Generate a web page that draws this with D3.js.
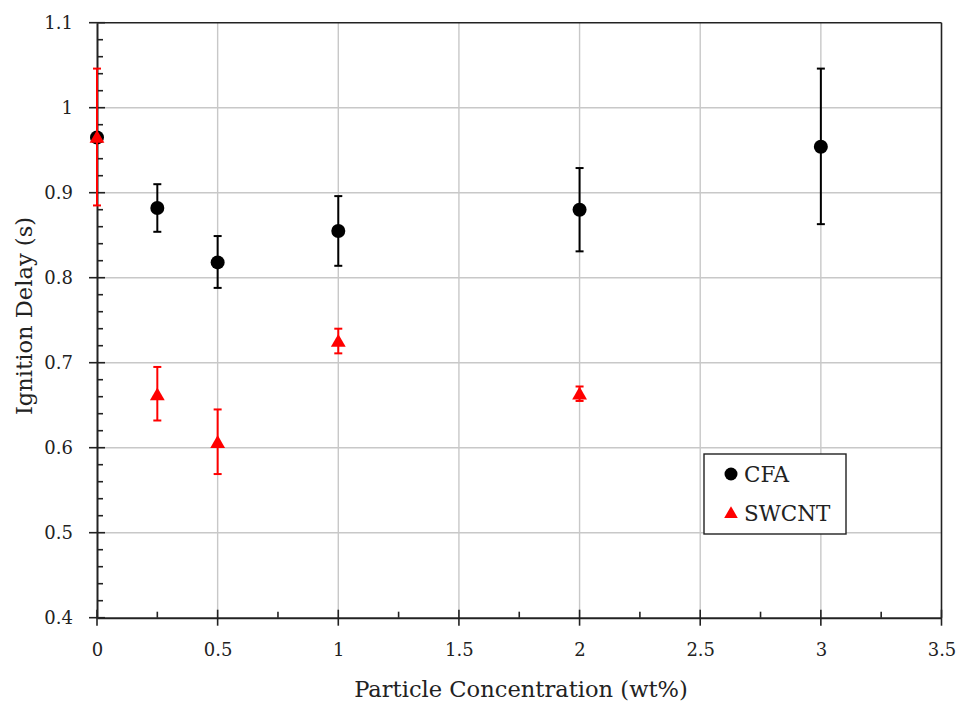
<!DOCTYPE html>
<html><head><meta charset="utf-8">
<script src="https://cdn.jsdelivr.net/npm/d3@7"></script>
<style>body{margin:0;background:#fff}svg{display:block}</style>
</head><body>
<svg id="c" width="959" height="701"></svg>
<script>
const xConc = [0, 0.25, 0.5, 1, 2, 3];
const cfaMean = [0.965, 0.882, 0.818, 0.855, 0.880, 0.954];
const cfaLow  = [0.965, 0.854, 0.788, 0.814, 0.831, 0.863];
const cfaHigh = [0.965, 0.910, 0.849, 0.896, 0.929, 1.046];
const swConc = [0, 0.25, 0.5, 1, 2];
const swMean = [0.965, 0.662, 0.606, 0.725, 0.663];
const swLow  = [0.885, 0.632, 0.569, 0.711, 0.655];
const swHigh = [1.046, 0.695, 0.645, 0.740, 0.672];
const xTicks = [0, 0.5, 1, 1.5, 2, 2.5, 3, 3.5];
const yTicks = [0.4, 0.5, 0.6, 0.7, 0.8, 0.9, 1.0, 1.1];
const seriesNames = ["CFA", "SWCNT"];

const FONT = "DejaVu Serif";
const TXT = "#222";
const svg = d3.select("#c");
const L = 97, R = 941.5, T = 22.7, B = 617.7;
const x = d3.scaleLinear().domain([0, 3.5]).range([L, R]);
const y = d3.scaleLinear().domain([0.4, 1.1]).range([B, T]);

// grid
const g = svg.append("g");
g.selectAll(".vg").data(xTicks.slice(1, -1)).join("line")
  .attr("x1", d => x(d)).attr("x2", d => x(d)).attr("y1", T).attr("y2", B)
  .attr("stroke", "#c8c8c8").attr("stroke-width", 1.4);
g.selectAll(".hg").data(yTicks.slice(1, -1)).join("line")
  .attr("y1", d => y(d)).attr("y2", d => y(d)).attr("x1", L).attr("x2", R)
  .attr("stroke", "#c8c8c8").attr("stroke-width", 1.4);

// frame top/right
svg.append("line").attr("x1", L).attr("x2", R).attr("y1", T).attr("y2", T).attr("stroke", "#222").attr("stroke-width", 1.6);
svg.append("line").attr("x1", R).attr("x2", R).attr("y1", T).attr("y2", B).attr("stroke", "#222").attr("stroke-width", 1.6);

// axes
const xAxis = d3.axisBottom(x).tickValues(xTicks).tickFormat(d3.format("")).tickSizeInner(0).tickSizeOuter(0).tickPadding(26);
const gx = svg.append("g").attr("transform", `translate(0,${B})`).call(xAxis);
gx.attr("font-family", FONT).attr("font-size", 18);
gx.select(".domain").attr("stroke", "#222").attr("stroke-width", 2);
gx.selectAll("text").attr("fill", TXT);
const yAxis = d3.axisLeft(y).tickValues(yTicks).tickFormat(d => d === 1 ? "1" : d3.format(".1f")(d)).tickSizeInner(0).tickSizeOuter(0).tickPadding(24);
const gy = svg.append("g").attr("transform", `translate(${L},0)`).call(yAxis);
gy.attr("font-family", FONT).attr("font-size", 18);
gy.select(".domain").attr("stroke", "#222").attr("stroke-width", 2);
gy.selectAll("text").attr("fill", TXT);

// major ticks (crossing) and minor ticks (inside)
svg.selectAll(".xmaj").data(xTicks).join("line")
  .attr("x1", d => x(d)).attr("x2", d => x(d)).attr("y1", B - 8).attr("y2", B + 8)
  .attr("stroke", "#222").attr("stroke-width", 1.6);
svg.selectAll(".xmin").data(d3.range(0.25, 3.5, 0.5)).join("line")
  .attr("x1", d => x(d)).attr("x2", d => x(d)).attr("y1", B - 6).attr("y2", B)
  .attr("stroke", "#222").attr("stroke-width", 1.6);
svg.selectAll(".ymaj").data(yTicks).join("line")
  .attr("y1", d => y(d)).attr("y2", d => y(d)).attr("x1", L - 8).attr("x2", L + 8)
  .attr("stroke", "#222").attr("stroke-width", 1.6);
const yMinor = d3.range(0, 35).map(i => 0.4 + i * 0.02).filter((d, i) => i % 5 !== 0);
svg.selectAll(".ymin").data(yMinor).join("line")
  .attr("y1", d => y(d)).attr("y2", d => y(d)).attr("x1", L).attr("x2", L + 6)
  .attr("stroke", "#222").attr("stroke-width", 1.6);

// error bars
function errBars(xs, lo, hi, color) {
  const data = xs.map((d, i) => ({x: d, lo: lo[i], hi: hi[i]})).filter(d => d.hi > d.lo);
  const eg = svg.append("g").attr("stroke", color).attr("stroke-width", 2);
  eg.selectAll(".v").data(data).join("line")
    .attr("x1", d => x(d.x)).attr("x2", d => x(d.x)).attr("y1", d => y(d.lo)).attr("y2", d => y(d.hi));
  eg.selectAll(".t").data(data).join("line")
    .attr("x1", d => x(d.x) - 4).attr("x2", d => x(d.x) + 4).attr("y1", d => y(d.hi)).attr("y2", d => y(d.hi));
  eg.selectAll(".b").data(data).join("line")
    .attr("x1", d => x(d.x) - 4).attr("x2", d => x(d.x) + 4).attr("y1", d => y(d.lo)).attr("y2", d => y(d.lo));
}
errBars(xConc, cfaLow, cfaHigh, "#000");
svg.selectAll(".cfa").data(xConc).join("circle")
  .attr("cx", d => x(d)).attr("cy", (d, i) => y(cfaMean[i])).attr("r", 7).attr("fill", "#000");
errBars(swConc, swLow, swHigh, "#f00");
const tri = d3.symbol().type(d3.symbolTriangle).size(95);
svg.selectAll(".sw").data(swConc).join("path")
  .attr("d", tri).attr("transform", (d, i) => `translate(${x(d)},${y(swMean[i]) + 1})`).attr("fill", "#f00");

// titles
svg.append("text").attr("x", 521).attr("y", 697).attr("text-anchor", "middle")
  .attr("font-family", FONT).attr("font-size", 22.6).attr("fill", TXT)
  .text("Particle Concentration (wt%)");
svg.append("text").attr("transform", `translate(32,316) rotate(-90)`).attr("text-anchor", "middle")
  .attr("font-family", FONT).attr("font-size", 22.6).attr("fill", TXT)
  .text("Ignition Delay (s)");

// legend
const lg = svg.append("g");
lg.append("rect").attr("x", 704).attr("y", 454).attr("width", 142).attr("height", 80)
  .attr("fill", "#fff").attr("stroke", "#222").attr("stroke-width", 1.4);
lg.append("circle").attr("cx", 731).attr("cy", 474).attr("r", 6.5).attr("fill", "#000");
lg.append("path").attr("d", d3.symbol().type(d3.symbolTriangle).size(80)).attr("transform", "translate(731,514)").attr("fill", "#f00");
lg.selectAll(".lt").data(seriesNames).join("text")
  .attr("x", 744).attr("y", (d, i) => 474 + i * 39).attr("dy", "0.35em")
  .attr("font-family", FONT).attr("font-size", 21.5).attr("fill", TXT).text(d => d);
</script>
</body></html>
